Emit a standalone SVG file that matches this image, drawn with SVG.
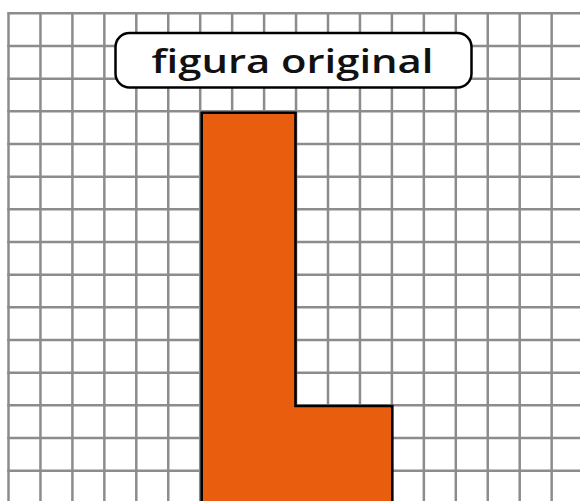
<svg xmlns="http://www.w3.org/2000/svg" width="580" height="501" viewBox="0 0 580 501">
  <style>
    .grid line { stroke: #8c8c8c; stroke-width: 2.5; }
    .shape { fill: #E85D0E; stroke: #000; stroke-width: 2.6; stroke-linejoin: miter; }
    .label-box { fill: #fff; stroke: #000; stroke-width: 2.5; }
    .label-text { font-family: "Open Sans", "Noto Sans", "DejaVu Sans", sans-serif; font-weight: 600; font-size: 32px; fill: #111; font-variant-ligatures: none; font-feature-settings: "liga" 0; }
  </style>
  <rect x="0" y="0" width="580" height="501" fill="#fff"/>
  <g id="grid" class="grid">
    <line x1="8.5" y1="13.3" x2="8.5" y2="501"/>
    <line x1="40.45" y1="13.3" x2="40.45" y2="501"/>
    <line x1="72.4" y1="13.3" x2="72.4" y2="501"/>
    <line x1="104.35" y1="13.3" x2="104.35" y2="501"/>
    <line x1="136.3" y1="13.3" x2="136.3" y2="501"/>
    <line x1="168.25" y1="13.3" x2="168.25" y2="501"/>
    <line x1="200.2" y1="13.3" x2="200.2" y2="501"/>
    <line x1="232.15" y1="13.3" x2="232.15" y2="501"/>
    <line x1="264.1" y1="13.3" x2="264.1" y2="501"/>
    <line x1="296.05" y1="13.3" x2="296.05" y2="501"/>
    <line x1="328" y1="13.3" x2="328" y2="501"/>
    <line x1="359.95" y1="13.3" x2="359.95" y2="501"/>
    <line x1="391.9" y1="13.3" x2="391.9" y2="501"/>
    <line x1="423.85" y1="13.3" x2="423.85" y2="501"/>
    <line x1="455.8" y1="13.3" x2="455.8" y2="501"/>
    <line x1="487.75" y1="13.3" x2="487.75" y2="501"/>
    <line x1="519.7" y1="13.3" x2="519.7" y2="501"/>
    <line x1="551.65" y1="13.3" x2="551.65" y2="501"/>
    <line x1="7.25" y1="13.3" x2="580" y2="13.3"/>
    <line x1="7.25" y1="45.97" x2="580" y2="45.97"/>
    <line x1="7.25" y1="78.64" x2="580" y2="78.64"/>
    <line x1="7.25" y1="111.31" x2="580" y2="111.31"/>
    <line x1="7.25" y1="143.98" x2="580" y2="143.98"/>
    <line x1="7.25" y1="176.65" x2="580" y2="176.65"/>
    <line x1="7.25" y1="209.32" x2="580" y2="209.32"/>
    <line x1="7.25" y1="241.99" x2="580" y2="241.99"/>
    <line x1="7.25" y1="274.66" x2="580" y2="274.66"/>
    <line x1="7.25" y1="307.33" x2="580" y2="307.33"/>
    <line x1="7.25" y1="340" x2="580" y2="340"/>
    <line x1="7.25" y1="372.67" x2="580" y2="372.67"/>
    <line x1="7.25" y1="405.34" x2="580" y2="405.34"/>
    <line x1="7.25" y1="438.01" x2="580" y2="438.01"/>
    <line x1="7.25" y1="470.68" x2="580" y2="470.68"/>
  </g>
  <g id="l-shape">
    <path class="shape" d="M201.7,112.7 H295.5 V406 H392.3 V505 H201.7 Z"/>
  </g>
  <g id="label">
    <rect class="label-box" x="115.5" y="33" width="356" height="54.5" rx="14" ry="14"/>
    <text class="label-text" x="292.5" y="73.3" text-anchor="middle" textLength="282" lengthAdjust="spacingAndGlyphs">figura original</text>
  </g>
</svg>
